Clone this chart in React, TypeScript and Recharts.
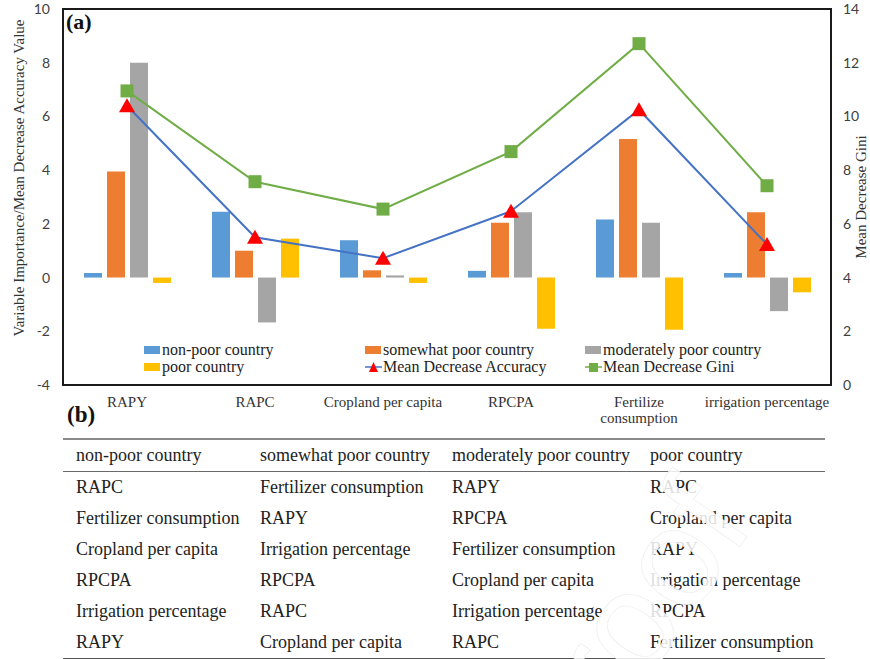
import React from "react";
import {
  ComposedChart, Bar, Line, XAxis, YAxis,
} from "recharts";

// variables on the category axis
const categories = [
  "RAPY", "RAPC", "Cropland per capita", "RPCPA", "Fertilize\nconsumption", "irrigation percentage",
];

// variable importance by country group (left axis)
const nonPoor = [0.17, 2.45, 1.39, 0.25, 2.16, 0.17];
const somewhatPoor = [3.95, 1.0, 0.27, 2.04, 5.16, 2.43];
const moderatelyPoor = [8.0, -1.67, 0.08, 2.43, 2.04, -1.25];
const poor = [-0.2, 1.45, -0.2, -1.91, -1.94, -0.55];

// mean decrease accuracy (left axis) and mean decrease gini (right axis)
const meanDecreaseAccuracy = [6.4, 1.5, 0.72, 2.47, 6.25, 1.23];
const meanDecreaseGini = [10.95, 7.57, 6.55, 8.69, 12.71, 7.42];

const leftTicks = [-4, -2, 0, 2, 4, 6, 8, 10];
const rightTicks = [0, 2, 4, 6, 8, 10, 12, 14];

// ranking table (b)
const groupHeaders = ["non-poor country", "somewhat poor country", "moderately poor country", "poor country"];
const rankNonPoor = ["RAPC", "Fertilizer consumption", "Cropland per capita", "RPCPA", "Irrigation percentage", "RAPY"];
const rankSomewhatPoor = ["Fertilizer consumption", "RAPY", "Irrigation percentage", "RPCPA", "RAPC", "Cropland per capita"];
const rankModeratelyPoor = ["RAPY", "RPCPA", "Fertilizer consumption", "Cropland per capita", "Irrigation percentage", "RAPC"];
const rankPoor = ["RAPC", "Cropland per capita", "RAPY", "Irrigation percentage", "RPCPA", "Fertilizer consumption"];

const data = categories.map((name, i) => ({
  name,
  nonPoor: nonPoor[i],
  somewhatPoor: somewhatPoor[i],
  moderatelyPoor: moderatelyPoor[i],
  poor: poor[i],
  mda: meanDecreaseAccuracy[i],
  mdg: meanDecreaseGini[i],
}));

const SERIF = "'Liberation Serif', 'Times New Roman', serif";
const SANS = "Lato, 'Open Sans', sans-serif";

const legendItems = [
  { key: "nonPoor", label: "non-poor country", color: "#5b9bd5", kind: "bar" },
  { key: "somewhatPoor", label: "somewhat poor country", color: "#ed7d31", kind: "bar" },
  { key: "moderatelyPoor", label: "moderately poor country", color: "#a5a5a5", kind: "bar" },
  { key: "poor", label: "poor country", color: "#ffc000", kind: "bar" },
  { key: "mda", label: "Mean Decrease Accuracy", color: "#4472c4", marker: "#ff0000", kind: "tri" },
  { key: "mdg", label: "Mean Decrease Gini", color: "#70ad47", marker: "#70ad47", kind: "sq" },
];

function Triangle({ cx, cy }: any) {
  if (cx == null || cy == null) return null;
  return <polygon points={`${cx},${cy - 7.5} ${cx + 8},${cy + 6.5} ${cx - 8},${cy + 6.5}`} fill="#ff0000" />;
}

function Square({ cx, cy }: any) {
  if (cx == null || cy == null) return null;
  return <rect x={cx - 6.5} y={cy - 6.5} width={13} height={13} fill="#70ad47" />;
}

function CategoryTick({ x, y, payload }: any) {
  const lines = String(payload.value).split("\n");
  return (
    <text x={x} y={y} textAnchor="middle" fontFamily={SERIF} fontSize={15} fill="#333">
      {lines.map((l, i) => (
        <tspan key={i} x={x} dy={i === 0 ? 22 : 16}>{l}</tspan>
      ))}
    </text>
  );
}

function LegendBox() {
  return (
    <div style={{
      position: "absolute", left: 144, top: 341,
      display: "grid", gridTemplateColumns: "221px 220px 200px",
      fontFamily: SERIF, fontSize: 16, color: "#222", lineHeight: "17px",
    }}>
      {legendItems.map((it) => (
        <div key={it.key} style={{ display: "flex", alignItems: "center", whiteSpace: "nowrap" }}>
          <svg width={17} height={12} style={{ marginRight: 1 }}>
            {it.kind === "bar" && <rect x={0} y={2} width={16} height={8} fill={it.color} />}
            {it.kind !== "bar" && <line x1={0} x2={17} y1={6} y2={6} stroke={it.color} strokeWidth={1.5} />}
            {it.kind === "tri" && <polygon points="8.5,1 13,11 4,11" fill={it.marker} />}
            {it.kind === "sq" && <rect x={4} y={2} width={9} height={9} fill={it.marker} />}
          </svg>
          <span>{it.label}</span>
        </div>
      ))}
    </div>
  );
}

const rankColumns = [rankNonPoor, rankSomewhatPoor, rankModeratelyPoor, rankPoor];
const colWidths = [197, 192, 198, 175];

function RankTable() {
  const cell = (text: string, c: number) => (
    <div key={c} style={{ width: colWidths[c], paddingLeft: c === 0 ? 13 : 0, boxSizing: "border-box", whiteSpace: "nowrap" }}>
      {text}
    </div>
  );
  return (
    <div style={{
      position: "absolute", left: 63, top: 438, width: 762,
      fontFamily: SERIF, fontSize: 18, color: "#222",
    }}>
      <div style={{ borderTop: "2px solid #8a8a8a", borderBottom: "1.5px solid #6a6a6a", display: "flex", height: 31, alignItems: "center" }}>
        {groupHeaders.map((h, c) => cell(h, c))}
      </div>
      {rankColumns[0].map((_, r) => (
        <div key={r} style={{ display: "flex", height: 31, alignItems: "center" }}>
          {rankColumns.map((col, c) => cell(col[r], c))}
        </div>
      ))}
      <div style={{ borderTop: "2px solid #555" }} />
    </div>
  );
}

export default function App() {
  return (
    <div style={{ position: "absolute", left: 0, top: 0, width: 870, height: 659, background: "#fff", overflow: "hidden" }}>
      <ComposedChart
        width={870}
        height={440}
        data={data}
        margin={{ top: 9, right: 0, bottom: 15, left: 0 }}
        barSize={18}
        barGap={5}
      >
        <XAxis dataKey="name" height={40} tickSize={0} tickMargin={0} tick={<CategoryTick />} axisLine={false} interval={0} />
        <YAxis
          yAxisId="left" width={63} domain={[-4, 10]} ticks={leftTicks} tickSize={0} tickMargin={13}
          tick={{ fontFamily: SANS, fontSize: 14, fill: "#404040" }} axisLine={false}
        />
        <YAxis
          yAxisId="right" orientation="right" width={39} domain={[0, 14]} ticks={rightTicks} tickSize={0} tickMargin={12}
          tick={{ fontFamily: SANS, fontSize: 14, fill: "#404040", textAnchor: "start" }} axisLine={false}
        />
        <Bar yAxisId="left" dataKey="nonPoor" name="non-poor country" fill="#5b9bd5" isAnimationActive={false} />
        <Bar yAxisId="left" dataKey="somewhatPoor" name="somewhat poor country" fill="#ed7d31" isAnimationActive={false} />
        <Bar yAxisId="left" dataKey="moderatelyPoor" name="moderately poor country" fill="#a5a5a5" isAnimationActive={false} />
        <Bar yAxisId="left" dataKey="poor" name="poor country" fill="#ffc000" isAnimationActive={false} />
        <Line yAxisId="left" dataKey="mda" name="Mean Decrease Accuracy" stroke="#4472c4" strokeWidth={2}
          dot={<Triangle />} activeDot={false} isAnimationActive={false} />
        <Line yAxisId="right" dataKey="mdg" name="Mean Decrease Gini" stroke="#70ad47" strokeWidth={2}
          dot={<Square />} activeDot={false} isAnimationActive={false} />
      </ComposedChart>

      {/* plot frame */}
      <div style={{ position: "absolute", left: 62, top: 8, width: 770, height: 378, border: "2px solid #1a1a1a", boxSizing: "border-box", pointerEvents: "none" }} />

      <LegendBox />

      <svg width={870} height={440} style={{ position: "absolute", left: 0, top: 0, pointerEvents: "none" }}>
        <text x={19} y={178} transform="rotate(-90 19 178)" textAnchor="middle" dominantBaseline="central"
          fontFamily={SERIF} fontSize={15} fill="#333">Variable Importance/Mean Decrease Accuracy Value</text>
        <text x={861} y={197} transform="rotate(-90 861 197)" textAnchor="middle" dominantBaseline="central"
          fontFamily={SERIF} fontSize={15} fill="#333">Mean Decrease Gini</text>
      </svg>

      <div style={{ position: "absolute", left: 66, top: 9, fontFamily: SERIF, fontWeight: "bold", fontSize: 22, color: "#111" }}>(a)</div>
      <div style={{ position: "absolute", left: 67, top: 402, fontFamily: SERIF, fontWeight: "bold", fontSize: 23, color: "#111" }}>(b)</div>

      <RankTable />

      {/* faint watermark across the table */}
      <svg width={870} height={659} style={{ position: "absolute", left: 0, top: 0, pointerEvents: "none" }}>
        <text x={755} y={525} textAnchor="end" transform="rotate(-55 755 525)"
          fontFamily="'Liberation Sans', sans-serif" fontSize={140} fill="#fff" fillOpacity={0.85}
          stroke="#f0f0f0" strokeWidth={0.8}>Proof</text>
      </svg>
    </div>
  );
}
